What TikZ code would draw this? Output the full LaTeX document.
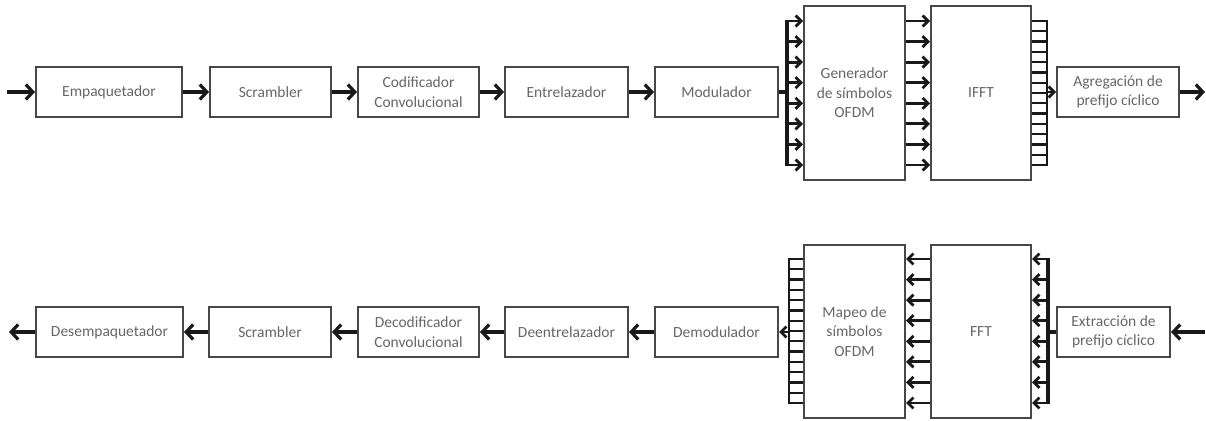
\documentclass[tikz,border=0pt]{standalone}
\usepackage{fontspec}
\setmainfont{Carlito}
\usetikzlibrary{arrows.meta,calc}
\begin{document}
\begin{tikzpicture}[x=1pt,y=-1pt,
  blk/.style={draw=black!72,line width=2pt,inner sep=0pt,align=center,
    text=black!60,font=\fontsize{15.5}{19.5}\selectfont},
  wire/.style={line width=3.2pt,black!90},
  arr/.style={wire,-{Straight Barb[length=7pt,width=15pt,line width=3.2pt]}},
  sarr/.style={line width=2.8pt,black!90,-{Straight Barb[length=5.5pt,width=11pt,line width=2.8pt]}},
  rung/.style={line width=2.2pt,black!90}]
\useasboundingbox (0,0) rectangle (1206,420);

% ---------- transmitter chain ----------
\node[blk,minimum width=146pt,minimum height=50pt] (emp)  at (109,92)   {Empaquetador};
\node[blk,minimum width=121pt,minimum height=50pt] (scr)  at (270.5,92) {Scrambler};
\node[blk,minimum width=121pt,minimum height=50pt] (cod)  at (418.5,92) {Codificador\\Convolucional};
\node[blk,minimum width=123pt,minimum height=50pt] (ent)  at (566.5,92) {Entrelazador};
\node[blk,minimum width=123pt,minimum height=50pt] (mod)  at (716.5,92) {Modulador};
\node[blk,minimum width=101pt,minimum height=174pt] (gen) at (854.5,93) {Generador\\de símbolos\\OFDM};
\node[blk,minimum width=100pt,minimum height=174pt] (ifft) at (981,93)  {IFFT};
\node[blk,minimum width=122pt,minimum height=50pt] (agr)  at (1118,92)  {Agregación de\\prefijo cíclico};

\coordinate (tin)  at (7,92);
\coordinate (tout) at (1205,92);
\coordinate (bus1) at (787,92);
\coordinate (lad1) at (1047,92);

\draw[arr] (tin) -- (emp);
\draw[arr] (emp) -- (scr);
\draw[arr] (scr) -- (cod);
\draw[arr] (cod) -- (ent);
\draw[arr] (ent) -- (mod);
\draw[wire] (mod.east) -- (bus1);
\draw[wire] (bus1 |- 0,20) -- (bus1 |- 0,166);
\foreach \i in {0,...,7}{
  \coordinate (tr\i) at (0,{21+\i*20.571});
  \draw[sarr] (bus1 |- tr\i) -- (gen.west |- tr\i);
  \draw[sarr] (gen.east |- tr\i) -- (ifft.west |- tr\i);
}
\draw[rung] (lad1 |- 0,20) -- (lad1 |- 0,166);
\foreach \j in {0,...,14}{
  \draw[rung] (ifft.east |- 0,{21+\j*10.286}) -- (lad1 |- 0,{21+\j*10.286});
}
\draw[sarr] (lad1) -- (agr.west);
\draw[arr] (agr) -- (tout);

% ---------- receiver chain ----------
\node[blk,minimum width=147pt,minimum height=50pt] (des)   at (109.5,332) {Desempaquetador};
\node[blk,minimum width=122pt,minimum height=50pt] (scr2)  at (270,332)   {Scrambler};
\node[blk,minimum width=121pt,minimum height=50pt] (dec)   at (418.5,332) {Decodificador\\Convolucional};
\node[blk,minimum width=123pt,minimum height=50pt] (dent)  at (566.5,332) {Deentrelazador};
\node[blk,minimum width=123pt,minimum height=50pt] (dmod)  at (716.5,332) {Demodulador};
\node[blk,minimum width=101pt,minimum height=173pt] (map)  at (854.5,331.5) {Mapeo de\\símbolos\\OFDM};
\node[blk,minimum width=100pt,minimum height=173pt] (fft)  at (981,331.5)   {FFT};
\node[blk,minimum width=113pt,minimum height=50pt] (ext)   at (1113.5,332)  {Extracción de\\prefijo cíclico};

\coordinate (rin)  at (1205,332);
\coordinate (rout) at (9,332);
\coordinate (lad2) at (789,332);
\coordinate (bus2) at (1048,332);

\draw[arr] (rin) -- (ext);
\draw[wire] (ext.west) -- (bus2);
\draw[wire] (bus2 |- 0,258) -- (bus2 |- 0,404);
\foreach \i in {0,...,7}{
  \coordinate (br\i) at (0,{259+\i*20.571});
  \draw[sarr] (bus2 |- br\i) -- (fft.east |- br\i);
  \draw[sarr] (fft.west |- br\i) -- (map.east |- br\i);
}
\draw[rung] (lad2 |- 0,258) -- (lad2 |- 0,404);
\foreach \j in {0,...,14}{
  \draw[rung] (lad2 |- 0,{259+\j*10.286}) -- (map.west |- 0,{259+\j*10.286});
}
\draw[sarr] (lad2) -- (dmod.east);
\draw[arr] (dmod) -- (dent);
\draw[arr] (dent) -- (dec);
\draw[arr] (dec) -- (scr2);
\draw[arr] (scr2) -- (des);
\draw[arr] (des) -- (rout);
\end{tikzpicture}
\end{document}
